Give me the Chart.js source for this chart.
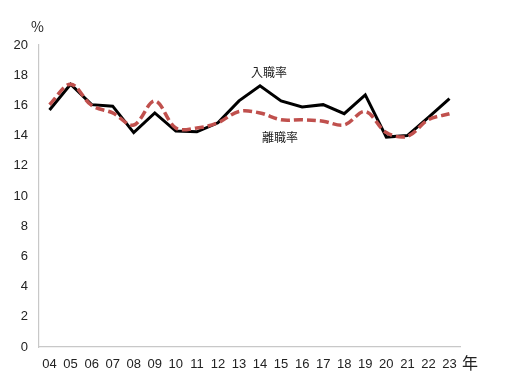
<!DOCTYPE html>
<html>
<head>
<meta charset="utf-8">
<script src="https://cdn.jsdelivr.net/npm/chart.js@4/dist/chart.umd.min.js"></script>
<style>
  html, body { margin: 0; padding: 0; background: #fff; }
  #wrap { width: 514px; height: 388px; position: relative; }
</style>
</head>
<body>
<div id="wrap"><canvas id="rateChart" width="514" height="388"></canvas></div>
<script>
// years (x axis) and the two rates
const years = ["04", "05", "06", "07", "08", "09", "10", "11", "12", "13",
               "14", "15", "16", "17", "18", "19", "20", "21", "22", "23"];
const entryRate = [15.7, 17.4, 16.05, 15.95, 14.2, 15.5, 14.3, 14.25, 14.85, 16.3,
                   17.3, 16.3, 15.9, 16.05, 15.45, 16.7, 13.9, 14.0, 15.2, 16.45];
const exitRate = [16.05, 17.4, 16.0, 15.5, 14.7, 16.3, 14.5, 14.5, 14.85, 15.6,
                  15.5, 15.05, 15.05, 14.95, 14.7, 15.6, 14.2, 13.95, 15.05, 15.45];
const yTicks = [0, 2, 4, 6, 8, 10, 12, 14, 16, 18, 20];

const jpFont = "'Noto Sans CJK JP', 'Noto Sans', sans-serif";
const numFont = "'Liberation Sans', Arial, sans-serif";

// draws "%", "年" and the two series names
const annotations = {
    id: "annotations",
    afterDatasetsDraw(chart) {
        const ctx = chart.ctx;
        const x = chart.scales.x;
        const y = chart.scales.y;
        ctx.save();
        ctx.fillStyle = "#222";
        ctx.textBaseline = "middle";

        ctx.font = "14px " + jpFont;
        ctx.textAlign = "left";
        ctx.fillText("%", 31, 27);
        ctx.font = "16px " + jpFont;
        ctx.fillText("年", x.right + 2, 363);

        ctx.font = "12px " + jpFont;
        ctx.textAlign = "center";
        ctx.fillText("入職率", x.getPixelForValue(10) + 9, y.getPixelForValue(18.2));
        ctx.fillText("離職率", x.getPixelForValue(11) - 1, y.getPixelForValue(13.9));
        ctx.restore();
    }
};

const ctx = document.getElementById("rateChart").getContext("2d");
new Chart(ctx, {
    type: "line",
    data: {
        labels: years,
        datasets: [
            {
                label: "離職率",
                data: exitRate,
                borderColor: "#C0504D",
                borderWidth: 3.5,
                borderDash: [9, 4],
                tension: 0.35,
                pointRadius: 0,
                fill: false
            },
            {
                label: "入職率",
                data: entryRate,
                borderColor: "#000000",
                borderWidth: 3,
                tension: 0,
                pointRadius: 0,
                fill: false
            }
        ]
    },
    options: {
        responsive: false,
        animation: false,
        devicePixelRatio: 1,
        layout: { padding: { top: 45, right: 54, left: 0, bottom: 0 } },
        plugins: {
            legend: { display: false },
            tooltip: { enabled: false }
        },
        scales: {
            x: {
                offset: true,
                grid: { display: false, drawTicks: false },
                border: { color: "#c8c8c8", width: 1.2 },
                ticks: {
                    color: "#222",
                    font: { family: numFont, size: 13 },
                    padding: 10,
                    maxRotation: 0,
                    autoSkip: false
                },
                afterFit(scale) { scale.height = 41; }
            },
            y: {
                min: 0,
                max: 20,
                grid: { display: false, drawTicks: false },
                border: { color: "#c8c8c8", width: 1.2 },
                ticks: {
                    color: "#222",
                    font: { family: numFont, size: 13 },
                    padding: 11,
                    stepSize: 2,
                    autoSkip: false,
                    callback: (v) => yTicks.includes(v) ? v : null
                },
                afterFit(scale) { scale.width = 39; }
            }
        }
    },
    plugins: [annotations]
});
</script>
</body>
</html>
